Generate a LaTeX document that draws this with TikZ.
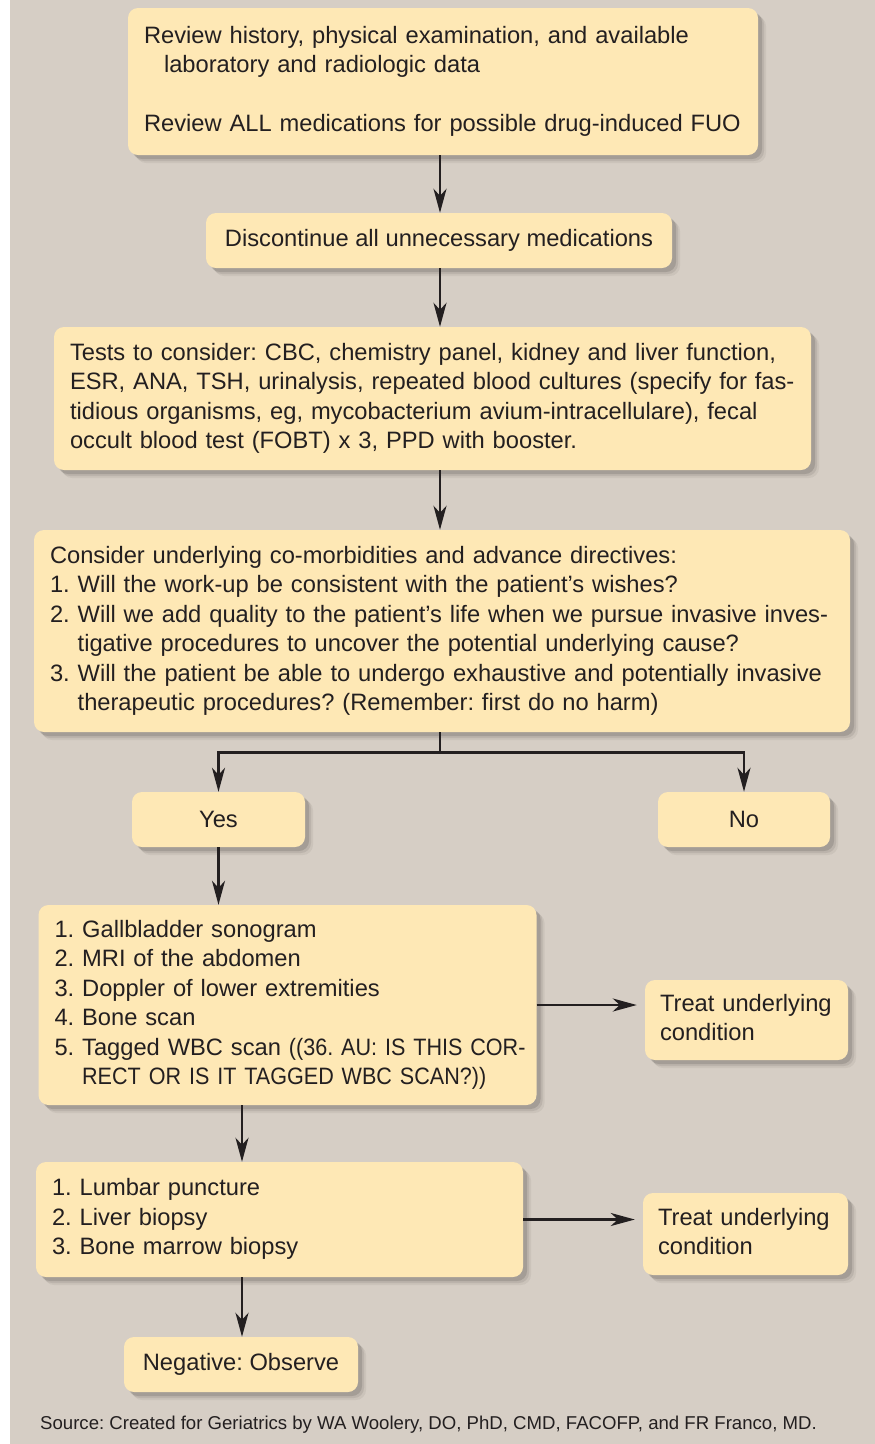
\documentclass[tikz,border=0pt]{standalone}
\usepackage{fontspec}
\setmainfont{Liberation Sans}
\usetikzlibrary{arrows.meta,shadows}
\definecolor{pagebg}{HTML}{D6CEC5}
\definecolor{boxfill}{HTML}{FEE8B5}
\definecolor{inkgrey}{HTML}{231F20}
\newcommand{\boxlines}[1]{\begin{tabular}{@{}l@{}}#1\end{tabular}}
\newcommand{\narrowcaps}[1]{{\addfontfeature{FakeStretch=0.91}#1}}
\frenchspacing
\tikzset{
  fuzzyshadow/.style={
    drop shadow={shadow xshift=8pt,shadow yshift=-8pt,opacity=0.05,fill=black},
    drop shadow={shadow xshift=6pt,shadow yshift=-6pt,opacity=0.08,fill=black},
    drop shadow={shadow xshift=4pt,shadow yshift=-4pt,opacity=0.12,fill=black}},
  stepbox/.style={fill=boxfill,rounded corners=10pt,fuzzyshadow,inner xsep=16pt,
    inner ysep=0pt,align=left,text=inkgrey,font=\fontsize{23.7}{29.5}\selectfont},
  choicebox/.style={stepbox,align=center,minimum height=55pt},
  flow/.style={draw=inkgrey,line width=2.6pt,-{Stealth[length=24pt,width=13pt,inset=7pt]}},
  srctext/.style={text=inkgrey,font=\fontsize{18.6}{23}\selectfont,inner sep=0pt}
}

\begin{document}
\begin{tikzpicture}[x=1pt,y=-1pt]
  % Page
  \useasboundingbox (0,0) rectangle (875,1444);
  \fill[pagebg] (10,0) rectangle (875,1444);
  % Arrow spines
  \coordinate (spine) at (440,0);
  \coordinate (spinelow) at (242,0);
  % Review
  \node[stepbox,text width=598pt,minimum height=147pt] (review) at (443,81.5)
    {\boxlines{Review history, physical examination, and available\\
     \hspace*{20pt}laboratory and radiologic data\\[29.5pt]
     Review ALL medications for possible drug-induced FUO}};
  % Discontinue
  \node[choicebox,minimum width=466pt] (discont) at (439,240.5)
    {Discontinue all unnecessary medications};
  % Tests
  \node[stepbox,text width=725pt,minimum height=143pt] (tests) at (432.5,398.5)
    {\boxlines{Tests to consider: CBC, chemistry panel, kidney and liver function,\\
     ESR, ANA, TSH, urinalysis, repeated blood cultures (specify for fas-\\
     tidious organisms, eg, mycobacterium avium-intracellulare), fecal\\
     occult blood test (FOBT) x 3, PPD with booster.}};
  % Consider
  \node[stepbox,text width=784pt,minimum height=202pt] (consider) at (442,631)
    {\boxlines{Consider underlying co-morbidities and advance directives:\\
     1. Will the work-up be consistent with the patient’s wishes?\\
     2. Will we add quality to the patient’s life when we pursue invasive inves-\\
     \phantom{2. }tigative procedures to uncover the potential underlying cause?\\
     3. Will the patient be able to undergo exhaustive and potentially invasive\\
     \phantom{3. }therapeutic procedures? (Remember: first do no harm)}};
  % Yes / No
  \node[choicebox,minimum width=173pt] (yes) at (218.5,819.5) {Yes};
  \node[choicebox,minimum width=172pt] (no) at (744,819.5) {No};
  % Scans
  \node[stepbox,text width=466pt,minimum height=200pt] (scans) at (287.5,1005)
    {\boxlines{1. Gallbladder sonogram\\
     2. MRI of the abdomen\\
     3. Doppler of lower extremities\\
     4. Bone scan\\
     5. Tagged WBC scan \narrowcaps{((36. AU: IS THIS COR-}\\
     \phantom{5. }\narrowcaps{RECT OR IS IT TAGGED WBC SCAN?))}}};
  \node[stepbox,inner xsep=15pt,text width=173pt,minimum height=80pt] (treata) at (746.5,1020)
    {\boxlines{Treat underlying\\condition}};
  % Biopsies
  \node[stepbox,text width=455pt,minimum height=115pt] (biopsy) at (279.5,1219.5)
    {\boxlines{1. Lumbar puncture\\
     2. Liver biopsy\\
     3. Bone marrow biopsy}};
  \node[stepbox,inner xsep=15pt,text width=175pt,minimum height=82pt] (treatb) at (745.5,1234)
    {\boxlines{Treat underlying\\condition}};
  % Observe
  \node[choicebox,minimum width=234pt] (observe) at (241,1364.5) {Negative: Observe};
  % Source
  \node[srctext] (source) at (428.5,1425)
    {Source: Created for Geriatrics by WA Woolery, DO, PhD, CMD, FACOFP, and FR Franco, MD.};
  % Arrows
  \draw[flow] (review.south -| spine) -- (discont.north -| spine);
  \draw[flow] (discont.south -| spine) -- (tests.north -| spine);
  \draw[flow] (tests.south -| spine) -- (consider.north -| spine);
  \draw[flow] (consider.south -| spine) -- ++(0,20) -| (yes.north);
  \draw[flow] (consider.south -| spine) -- ++(0,20) -| (no.north);
  \draw[flow] (yes.south) -- (yes.south |- scans.north);
  \draw[flow,shorten >=8pt] (scans.east) -- (scans.east -| treata.west);
  \draw[flow] (scans.south -| spinelow) -- (biopsy.north -| spinelow);
  \draw[flow,shorten >=8pt] (biopsy.east) -- (biopsy.east -| treatb.west);
  \draw[flow] (biopsy.south -| spinelow) -- (observe.north -| spinelow);
\end{tikzpicture}
\end{document}
